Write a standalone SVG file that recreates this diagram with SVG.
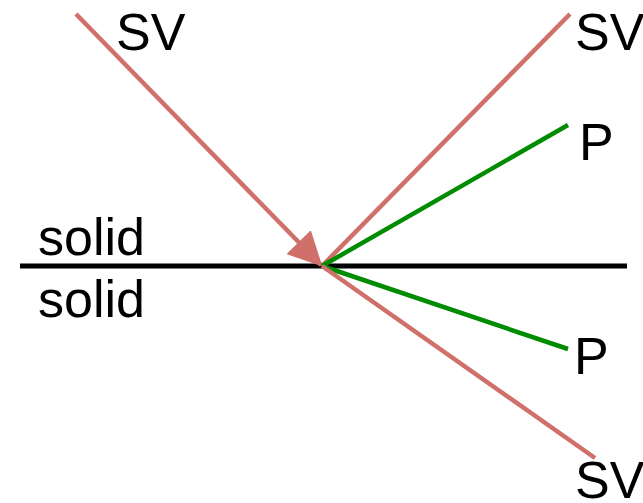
<svg xmlns="http://www.w3.org/2000/svg" width="643" height="503" viewBox="0 0 643 503">
<style>
.t{font-family:"Liberation Sans",Arial,sans-serif;font-size:52px;fill:#000}
.r{stroke:#d0706a;stroke-width:4.5;fill:none}
.g{stroke:#008c00;stroke-width:4.5;fill:none}
</style>
<defs>
<marker id="ah" markerUnits="userSpaceOnUse" markerWidth="34" markerHeight="34" viewBox="0 0 34 34" refX="32" refY="17" orient="auto">
<path d="M0,0 L34,17 L0,34 Z" fill="#d0706a"/>
</marker>
</defs>
<g id="interface"><line x1="20" y1="266" x2="627" y2="266" stroke="#000" stroke-width="5"/></g>
<g id="connectors">
<line class="r" x1="76" y1="14" x2="321" y2="265" marker-end="url(#ah)"/>
<line class="r" x1="322" y1="266" x2="570" y2="14"/>
<line class="g" x1="322" y1="266" x2="568" y2="125"/>
<line class="g" x1="322" y1="266" x2="568" y2="349"/>
<line class="r" x1="322" y1="266" x2="595" y2="458"/>
</g>
<g id="label-sv-in"><text class="t" x="116" y="50">SV</text></g>
<g id="label-sv-refl"><text class="t" x="575" y="50">SV</text></g>
<g id="label-p-refl"><text class="t" x="579" y="160">P</text></g>
<g id="label-p-trans"><text class="t" x="574" y="374">P</text></g>
<g id="label-sv-trans"><text class="t" x="575" y="498">SV</text></g>
<g id="label-solid-top"><text class="t" x="38" y="255">solid</text></g>
<g id="label-solid-bottom"><text class="t" x="38" y="317">solid</text></g>
</svg>
